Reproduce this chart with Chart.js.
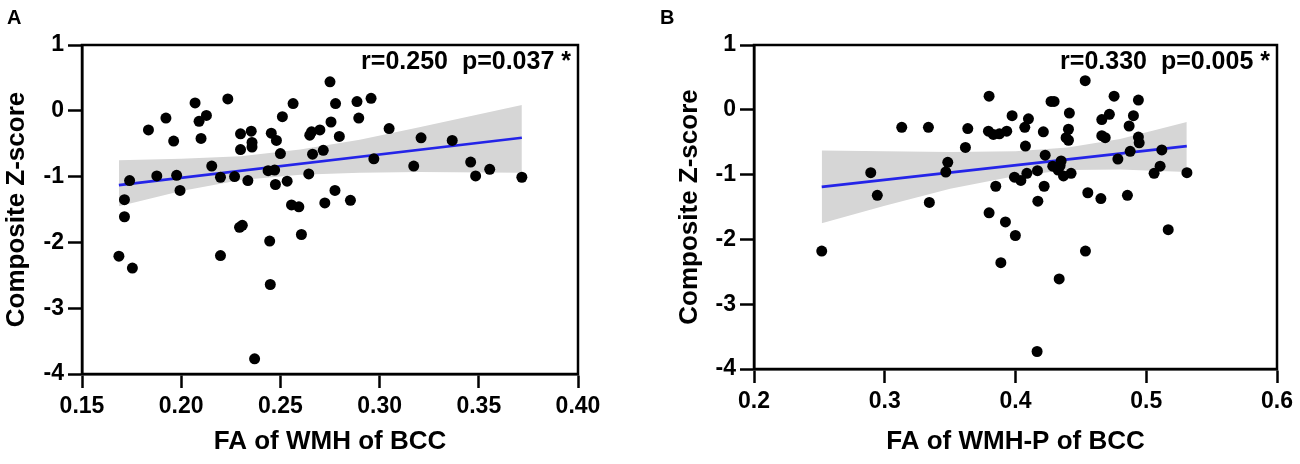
<!DOCTYPE html>
<html>
<head>
<meta charset="utf-8">
<script src="https://cdn.jsdelivr.net/npm/chart.js@4.4.1/dist/chart.umd.min.js"></script>
<style>
  html, body { margin: 0; padding: 0; background: #fff; }
  #wrap { position: relative; width: 1300px; height: 464px; }
  .panel { position: absolute; top: 0; width: 650px; height: 464px; }
</style>
</head>
<body>
<div id="wrap">
  <div class="panel" style="left:0"><canvas id="cA" width="650" height="464"></canvas></div>
  <div class="panel" style="left:650px"><canvas id="cB" width="650" height="464"></canvas></div>
</div>
<script>
// ---------------- DATA ----------------
const yTicks = [-4, -3, -2, -1, 0, 1];
const yTickLabels = ['-4', '-3', '-2', '-1', '0', '1'];

// Panel A
const xTicksA = [0.15, 0.20, 0.25, 0.30, 0.35, 0.40];
const xTickLabelsA = ['0.15', '0.20', '0.25', '0.30', '0.35', '0.40'];
const xA = [
  0.275, 0.2235, 0.207, 0.2564, 0.2778, 0.2886, 0.2957, 0.1923, 0.2127, 0.209,
  0.251, 0.2755, 0.2895, 0.1835, 0.1962, 0.21, 0.2299, 0.2353, 0.2454, 0.248,
  0.2648, 0.2657, 0.2699, 0.2797, 0.2299, 0.2357, 0.2357, 0.25, 0.2662, 0.2716,
  0.2971, 0.2154, 0.174, 0.1877, 0.1977, 0.2198, 0.2269, 0.2336, 0.2438, 0.2471,
  0.2643, 0.1994, 0.2475, 0.2534, 0.2775, 0.1714, 0.1714, 0.2556, 0.2593, 0.2724,
  0.2853, 0.2294, 0.2308, 0.3048, 0.3209, 0.3366, 0.3172, 0.3459, 0.3484, 0.3555,
  0.3717, 0.2446, 0.2606, 0.1686, 0.1754, 0.2198, 0.2449, 0.237
];
const yA = [
  0.44, 0.18, 0.12, 0.11, 0.11, 0.14, 0.19, -0.11, -0.07, -0.16,
  -0.09, -0.17, -0.11, -0.29, -0.46, -0.42, -0.35, -0.31, -0.34, -0.45,
  -0.37, -0.32, -0.29, -0.39, -0.59, -0.48, -0.55, -0.65, -0.66, -0.60,
  -0.73, -0.84, -1.06, -0.99, -0.98, -1.01, -1.00, -1.06, -0.91, -0.90,
  -0.96, -1.21, -1.12, -1.07, -1.21, -1.35, -1.61, -1.43, -1.46, -1.40,
  -1.36, -1.77, -1.74, -0.27, -0.41, -0.45, -0.84, -0.78, -0.99, -0.89,
  -1.01, -1.98, -1.88, -2.21, -2.39, -2.20, -2.64, -3.77
];
const fitXA = [0.1686, 0.3717];
const fitYA = [-1.13, -0.41];
const bandXA = [0.1686, 0.20, 0.23, 0.26, 0.29, 0.32, 0.3717];
const bandUpA = [-0.75, -0.73, -0.69, -0.59, -0.44, -0.25, 0.09];
const bandLoA = [-1.45, -1.22, -1.05, -0.97, -0.94, -0.93, -0.94];
const statA = 'r=0.250  p=0.037 *';

// Panel B
const xTicksB = [0.2, 0.3, 0.4, 0.5, 0.6];
const xTickLabelsB = ['0.2', '0.3', '0.4', '0.5', '0.6'];
const xB = [
  0.3798, 0.3974, 0.4099, 0.313, 0.3334, 0.3635, 0.3793, 0.3831, 0.3877, 0.3933,
  0.4071, 0.3617, 0.4076, 0.3482, 0.3467, 0.2893, 0.2943, 0.3341, 0.3849, 0.3992,
  0.4041, 0.4087, 0.3798, 0.3923, 0.4533, 0.4272, 0.4295, 0.4754, 0.494, 0.4412,
  0.4718, 0.466, 0.4902, 0.4213, 0.4405, 0.4869, 0.4387, 0.4405, 0.466, 0.4686,
  0.494, 0.4946, 0.4227, 0.4349, 0.4341, 0.4285, 0.4783, 0.4877, 0.5119, 0.5106,
  0.506, 0.5311, 0.4168, 0.4367, 0.4425, 0.4219, 0.4553, 0.4653, 0.4856, 0.4171,
  0.5168, 0.2518, 0.3999, 0.3888, 0.4535, 0.4334, 0.4165, 0.4326
];
const yB = [
  0.21, -0.09, -0.14, -0.27, -0.27, -0.29, -0.33, -0.38, -0.37, -0.33,
  -0.27, -0.58, -0.56, -0.81, -0.96, -0.97, -1.32, -1.43, -1.18, -1.04,
  -1.09, -0.98, -1.59, -1.73, 0.45, 0.13, 0.13, 0.21, 0.15, -0.05,
  -0.07, -0.15, -0.09, -0.34, -0.30, -0.25, -0.43, -0.47, -0.40, -0.43,
  -0.42, -0.51, -0.70, -0.79, -0.86, -0.87, -0.76, -0.64, -0.62, -0.87,
  -0.98, -0.97, -0.94, -1.02, -0.98, -1.18, -1.28, -1.37, -1.32, -1.41,
  -1.85, -2.18, -1.94, -2.36, -2.18, -2.61, -3.73, -0.93
];
const fitXB = [0.2518, 0.531];
const fitYB = [-1.19, -0.56];
const bandXB = [0.2518, 0.30, 0.35, 0.40, 0.44, 0.48, 0.531];
const bandUpB = [-0.63, -0.64, -0.65, -0.64, -0.58, -0.45, -0.19];
const bandLoB = [-1.75, -1.48, -1.22, -1.02, -0.93, -0.92, -0.96];
const statB = 'r=0.330  p=0.005 *';

// ---------------- RENDERING ----------------
const FONT = '"Liberation Sans", Arial, Helvetica, sans-serif';
const zip = (xs, ys) => xs.map((x, i) => ({ x: x, y: ys[i] }));

const framePlugin = {
  id: 'frame',
  afterDraw(chart, args, o) {
    const { ctx, chartArea: a } = chart;
    ctx.save();
    ctx.strokeStyle = '#000';
    ctx.lineWidth = 2.5;
    ctx.strokeRect(a.left, a.top, a.right - a.left, a.bottom - a.top);
    // stat text
    ctx.fillStyle = '#000';
    ctx.font = 'bold 25px ' + FONT;
    ctx.textAlign = 'right';
    ctx.textBaseline = 'middle';
    ctx.fillText(o.stat, a.right - 7, a.top + 17);
    // panel letter
    ctx.textAlign = 'left';
    ctx.font = 'bold 20px ' + FONT;
    ctx.fillText(o.letter, o.letterX, 18);
    ctx.restore();
  }
};

function makePanel(id, p) {
  new Chart(document.getElementById(id), {
    data: {
      datasets: [
        { type: 'scatter', data: zip(p.x, p.y), backgroundColor: '#000', borderWidth: 0,
          pointRadius: 5.5, pointHoverRadius: 5.5, order: 0 },
        { type: 'line', data: zip(p.fitX, p.fitY), borderColor: '#2424e8', borderWidth: 2.6,
          pointRadius: 0, fill: false, order: 1 },
        { type: 'line', data: zip(p.bandX, p.bandUp), borderWidth: 0, borderColor: 'rgba(0,0,0,0)',
          backgroundColor: '#d6d6d6', pointRadius: 0, fill: '+1', order: 2 },
        { type: 'line', data: zip(p.bandX, p.bandLo), borderWidth: 0, borderColor: 'rgba(0,0,0,0)',
          pointRadius: 0, fill: false, order: 2 }
      ]
    },
    options: {
      responsive: false,
      animation: false,
      events: [],
      layout: { padding: { left: 0, top: 45, right: p.padRight, bottom: 0 } },
      plugins: {
        legend: { display: false },
        tooltip: { enabled: false },
        frame: { stat: p.stat, letter: p.letter, letterX: p.letterX }
      },
      scales: {
        x: {
          type: 'linear', min: p.xTicks[0], max: p.xTicks[p.xTicks.length - 1],
          afterBuildTicks: s => { s.ticks = p.xTicks.map(v => ({ value: v })); },
          afterFit: s => { s.height = p.xAxisH; },
          grid: { drawOnChartArea: false, drawTicks: true, tickLength: 14, tickColor: '#000', tickWidth: 2.5 },
          border: { display: true, color: '#000', width: 2.5 },
          ticks: { color: '#000', padding: 5, maxRotation: 0, autoSkip: false,
                   font: { family: FONT, size: 23, weight: 'bold' },
                   callback: (v, i) => p.xLabels[i] },
          title: { display: true, text: p.xTitle, color: '#000',
                   font: { family: FONT, size: 26, weight: 'bold' }, padding: { top: 0, bottom: 7 } }
        },
        y: {
          type: 'linear', min: -4, max: 1,
          afterBuildTicks: s => { s.ticks = yTicks.map(v => ({ value: v })); },
          afterFit: s => { s.width = p.yAxisW; },
          grid: { drawOnChartArea: false, drawTicks: true, tickLength: 14, tickColor: '#000', tickWidth: 2.5 },
          border: { display: true, color: '#000', width: 2.5 },
          ticks: { color: '#000', padding: 4, autoSkip: false,
                   font: { family: FONT, size: 23, weight: 'bold' },
                   callback: (v, i) => yTickLabels[i] },
          title: { display: true, text: 'Composite Z-score', color: '#000',
                   font: { family: FONT, size: 26, weight: 'bold' }, padding: { top: p.yTitlePad, bottom: 0 } }
        }
      }
    },
    plugins: [framePlugin]
  });
}

makePanel('cA', {
  x: xA, y: yA, fitX: fitXA, fitY: fitYA, bandX: bandXA, bandUp: bandUpA, bandLo: bandLoA,
  xTicks: xTicksA, xLabels: xTickLabelsA, xTitle: 'FA of WMH of BCC', stat: statA,
  letter: 'A', letterX: 7, yAxisW: 82, xAxisH: 90, padRight: 72, yTitlePad: 1
});
makePanel('cB', {
  x: xB, y: yB, fitX: fitXB, fitY: fitYB, bandX: bandXB, bandUp: bandUpB, bandLo: bandLoB,
  xTicks: xTicksB, xLabels: xTickLabelsB, xTitle: 'FA of WMH-P of BCC', stat: statB,
  letter: 'B', letterX: 10, yAxisW: 104, xAxisH: 95, padRight: 23, yTitlePad: 24
});
</script>
</body>
</html>
